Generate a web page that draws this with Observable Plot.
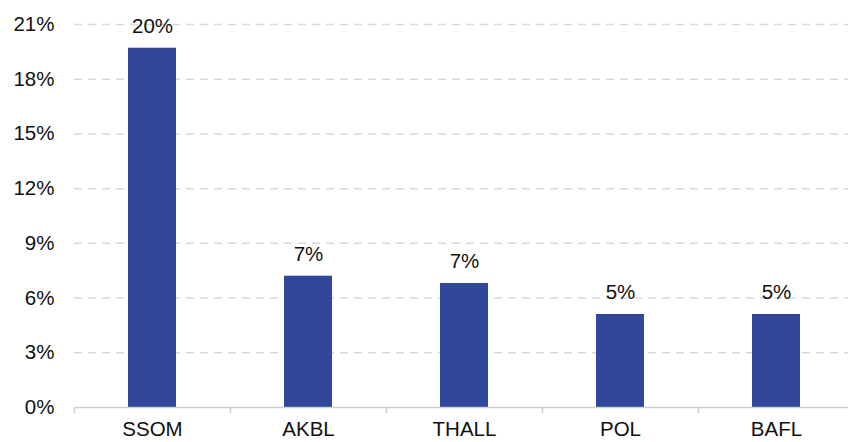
<!DOCTYPE html>
<html>
<head>
<meta charset="utf-8">
<script src="https://cdn.jsdelivr.net/npm/d3@7"></script>
<script src="https://cdn.jsdelivr.net/npm/@observablehq/plot@0.6"></script>
<style>
  html, body { margin: 0; padding: 0; background: #fff; }
  #chart svg { display: block; }
</style>
</head>
<body>
<div id="chart"></div>
<script>
const categories = ["SSOM", "AKBL", "THALL", "POL", "BAFL"];
const values = [19.7, 7.2, 6.8, 5.1, 5.1];
const yTicks = [0, 3, 6, 9, 12, 15, 18, 21];

const data = categories.map((c, i) => ({ name: c, value: values[i] }));
const font = "Liberation Sans, Arial, sans-serif";
const barColor = "#31479a";
const bandW = (854 - 74) / categories.length;

const chart = Plot.plot({
  width: 848,
  height: 442,
  marginTop: 24,
  marginBottom: 35,
  marginLeft: 74,
  marginRight: 0,
  style: { fontFamily: font, fontSize: "20.5px", color: "#111", background: "#fff" },
  x: { domain: categories, range: [74, 854], paddingInner: 0.69, paddingOuter: 0.345, label: null },
  y: { domain: [0, 21], ticks: yTicks, label: null },
  marks: [
    Plot.ruleY(yTicks.filter(d => d > 0), { stroke: "#d9d9d9", strokeWidth: 1.5, strokeDasharray: "8,6" }),
    Plot.barY(data, { x: "name", y: "value", fill: barColor }),
    Plot.ruleY([0], { stroke: "#d0d0d0", strokeWidth: 1.5 }),
    Plot.ruleX(categories, { x: d => d, dx: -bandW / 2, y1: 0, y2: -0.35, stroke: "#d0d0d0", strokeWidth: 1.5 }),
    Plot.text(data, { x: "name", y: "value", text: d => Math.round(d.value) + "%", dy: -22, fontSize: 20.5, fill: "#111" }),
    Plot.axisY({ ticks: yTicks, tickFormat: d => d + "%", tickSize: 0, tickPadding: 20, fontSize: 20.5, fill: "#111" }),
    Plot.axisX({ tickSize: 0, tickPadding: 14, fontSize: 20.5, fill: "#111" })
  ]
});
document.getElementById("chart").appendChild(chart);
</script>
</body>
</html>
